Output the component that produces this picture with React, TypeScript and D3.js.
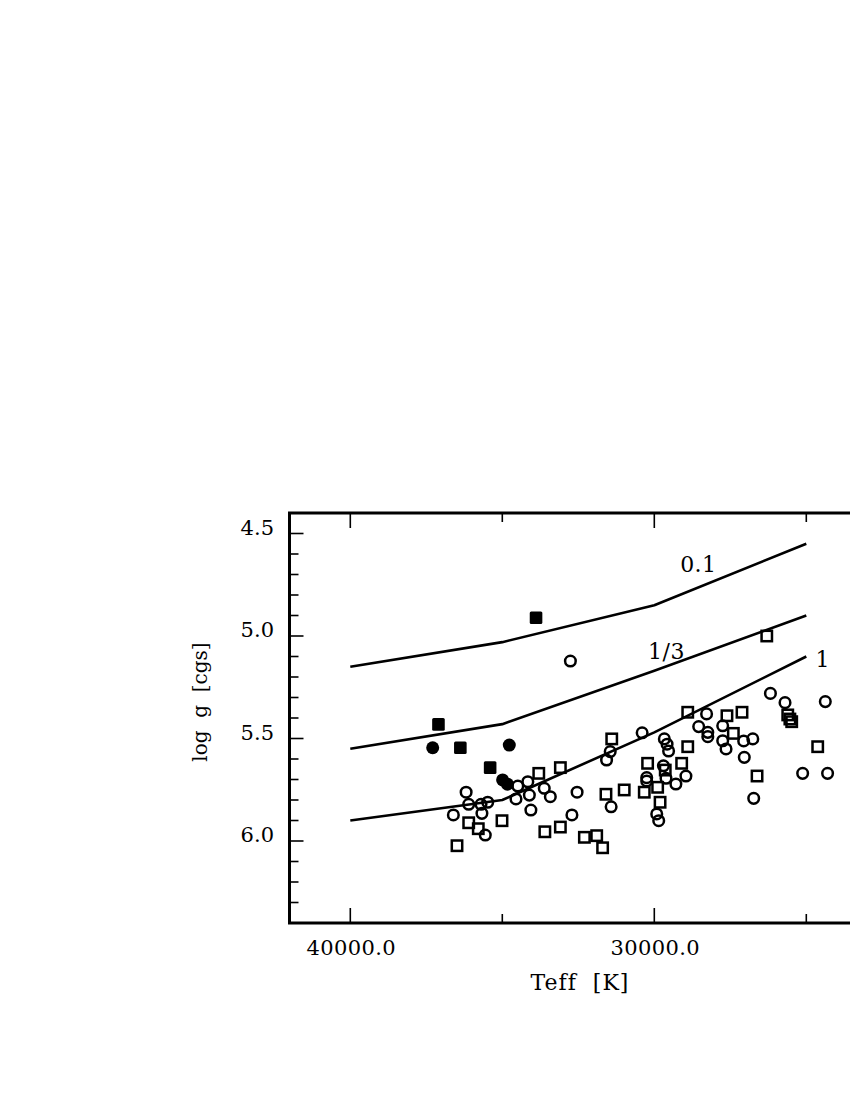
import * as d3 from "d3";

// Model curves (Teff in K, log g)
const curveTeff = [40000, 35000, 30000, 25000];
const curve01 = [5.15, 5.03, 4.85, 4.55];
const curve13 = [5.55, 5.43, 5.17, 4.9];
const curve1 = [5.9, 5.8, 5.47, 5.1];
const curveLabels = [
  { text: "0.1", teff: 28550, logg: 4.69 },
  { text: "1/3", teff: 29600, logg: 5.11 },
  { text: "1", teff: 24460, logg: 5.15 },
];

// Observed stars [Teff, log g]
const openCircles: [number, number][] = [
  [36190, 5.762], [36610, 5.873], [36105, 5.821], [35700, 5.821], [35480, 5.811],
  [35670, 5.865], [35560, 5.971], [34490, 5.732], [34550, 5.795], [34160, 5.711],
  [34110, 5.776], [34060, 5.849], [33620, 5.743], [33420, 5.784], [32710, 5.873],
  [32540, 5.762], [31420, 5.833], [31570, 5.605], [31450, 5.564], [30400, 5.472],
  [29670, 5.502], [29580, 5.528], [29530, 5.561], [29700, 5.633], [30250, 5.691],
  [30250, 5.707], [29615, 5.694], [29290, 5.722], [28960, 5.683], [29920, 5.868],
  [29855, 5.901], [28540, 5.442], [28240, 5.47], [28240, 5.491], [28280, 5.38],
  [27750, 5.438], [27750, 5.511], [27640, 5.551], [27060, 5.512], [26760, 5.502],
  [27040, 5.592], [26730, 5.792], [25120, 5.67], [24300, 5.67], [26180, 5.28],
  [25700, 5.325], [24375, 5.32], [32760, 5.122],
];
const openSquares: [number, number][] = [
  [36490, 6.023], [36105, 5.911], [35790, 5.94], [35010, 5.901], [33800, 5.67],
  [33090, 5.642], [33600, 5.955], [33090, 5.932], [32300, 5.982], [31895, 5.974],
  [31700, 6.033], [31590, 5.772], [30990, 5.751], [30330, 5.762], [29890, 5.738],
  [29810, 5.811], [30220, 5.621], [29100, 5.621], [29640, 5.654], [31400, 5.502],
  [28900, 5.54], [28900, 5.372], [27610, 5.389], [27115, 5.372], [27400, 5.475],
  [26620, 5.683], [24625, 5.54], [26300, 5.0], [25610, 5.385], [25540, 5.405],
  [25480, 5.418],
];
const filledCircles: [number, number][] = [
  [37290, 5.545], [34770, 5.532], [34990, 5.702], [34830, 5.723],
];
const filledSquares: [number, number][] = [
  [33890, 4.911], [37100, 5.431], [36380, 5.545], [35400, 5.642],
];

const xMajorTicks = [40000, 30000];
const xMinorTicks = [35000, 25000];
const xTickLabels = ["40000.0", "30000.0"];
const yMajorTicks = [4.5, 5.0, 5.5, 6.0];
const yTickLabels = ["4.5", "5.0", "5.5", "6.0"];
const yMinorTicks = d3.range(45, 64).map((v) => v / 10).filter((v) => !yMajorTicks.includes(v));

const FONT = "'DejaVu Serif', serif";

export default function App() {
  const left = 289.5;
  const top = 513;
  const bottom = 923;
  const x = d3.scaleLinear().domain([42000, 22000]).range([left, left + 608]);
  const y = d3.scaleLinear().domain([4.4, 6.4]).range([top, bottom]);
  const right = x(22000);

  const line = d3
    .line<number>()
    .x((_, i) => x(curveTeff[i]))
    .y((d) => y(d));

  return (
    <svg
      width={850}
      height={1100}
      style={{ position: "absolute", left: 0, top: 0, background: "white" }}
      fontFamily={FONT}
    >
      {/* frame */}
      <rect
        x={left}
        y={top}
        width={right - left}
        height={bottom - top}
        fill="none"
        stroke="#000"
        strokeWidth={3}
      />

      {/* x ticks (inward, top and bottom) */}
      {xMajorTicks.map((t) => (
        <g key={"xM" + t}>
          <line x1={x(t)} x2={x(t)} y1={bottom} y2={bottom - 15} stroke="#000" strokeWidth={1.6} />
          <line x1={x(t)} x2={x(t)} y1={top} y2={top + 15} stroke="#000" strokeWidth={1.6} />
        </g>
      ))}
      {xMinorTicks.map((t) => (
        <g key={"xm" + t}>
          <line x1={x(t)} x2={x(t)} y1={bottom} y2={bottom - 9} stroke="#000" strokeWidth={1.6} />
          <line x1={x(t)} x2={x(t)} y1={top} y2={top + 9} stroke="#000" strokeWidth={1.6} />
        </g>
      ))}
      {xMajorTicks.map((t, i) => (
        <text key={"xl" + t} x={x(t) + 1} y={955} fontSize={21} textAnchor="middle" letterSpacing={0.4}>
          {xTickLabels[i]}
        </text>
      ))}

      {/* y ticks */}
      {yMajorTicks.map((t) => (
        <line key={"yM" + t} x1={left} x2={left + 14} y1={y(t)} y2={y(t)} stroke="#000" strokeWidth={1.6} />
      ))}
      {yMinorTicks.map((t) => (
        <line key={"ym" + t} x1={left} x2={left + 9} y1={y(t)} y2={y(t)} stroke="#000" strokeWidth={1.6} />
      ))}
      {yMajorTicks.map((t, i) => (
        <text key={"yl" + t} x={274} y={y(t) + 1} fontSize={21} textAnchor="end">
          {yTickLabels[i]}
        </text>
      ))}

      {/* axis titles */}
      <text x={580} y={990} fontSize={22} textAnchor="middle" letterSpacing={1} style={{ whiteSpace: "pre" }}>
        {"Teff  [K]"}
      </text>
      <text
        transform="translate(207,702) rotate(-90)"
        fontSize={20}
        textAnchor="middle"
        style={{ whiteSpace: "pre" }}
      >
        {"log  g  [cgs]"}
      </text>

      {/* model curves */}
      {[curve01, curve13, curve1].map((c, i) => (
        <path key={"c" + i} d={line(c) ?? ""} fill="none" stroke="#000" strokeWidth={2.6} strokeLinejoin="round" />
      ))}
      {curveLabels.map((l) => (
        <text key={l.text} x={x(l.teff)} y={y(l.logg)} fontSize={22} textAnchor="middle" letterSpacing={0.5}>
          {l.text}
        </text>
      ))}

      {/* observed stars */}
      {openCircles.map((d, i) => (
        <circle key={"oc" + i} cx={x(d[0])} cy={y(d[1])} r={5.3} fill="none" stroke="#000" strokeWidth={2.5} />
      ))}
      {openSquares.map((d, i) => (
        <rect
          key={"os" + i}
          x={x(d[0]) - 5.2}
          y={y(d[1]) - 5.2}
          width={10.4}
          height={10.4}
          fill="none"
          stroke="#000"
          strokeWidth={2.5}
        />
      ))}
      {filledCircles.map((d, i) => (
        <circle key={"fc" + i} cx={x(d[0])} cy={y(d[1])} r={6.5} fill="#000" />
      ))}
      {filledSquares.map((d, i) => (
        <rect key={"fs" + i} x={x(d[0]) - 6.3} y={y(d[1]) - 6.3} width={12.6} height={12.6} rx={1.5} fill="#000" />
      ))}
    </svg>
  );
}
